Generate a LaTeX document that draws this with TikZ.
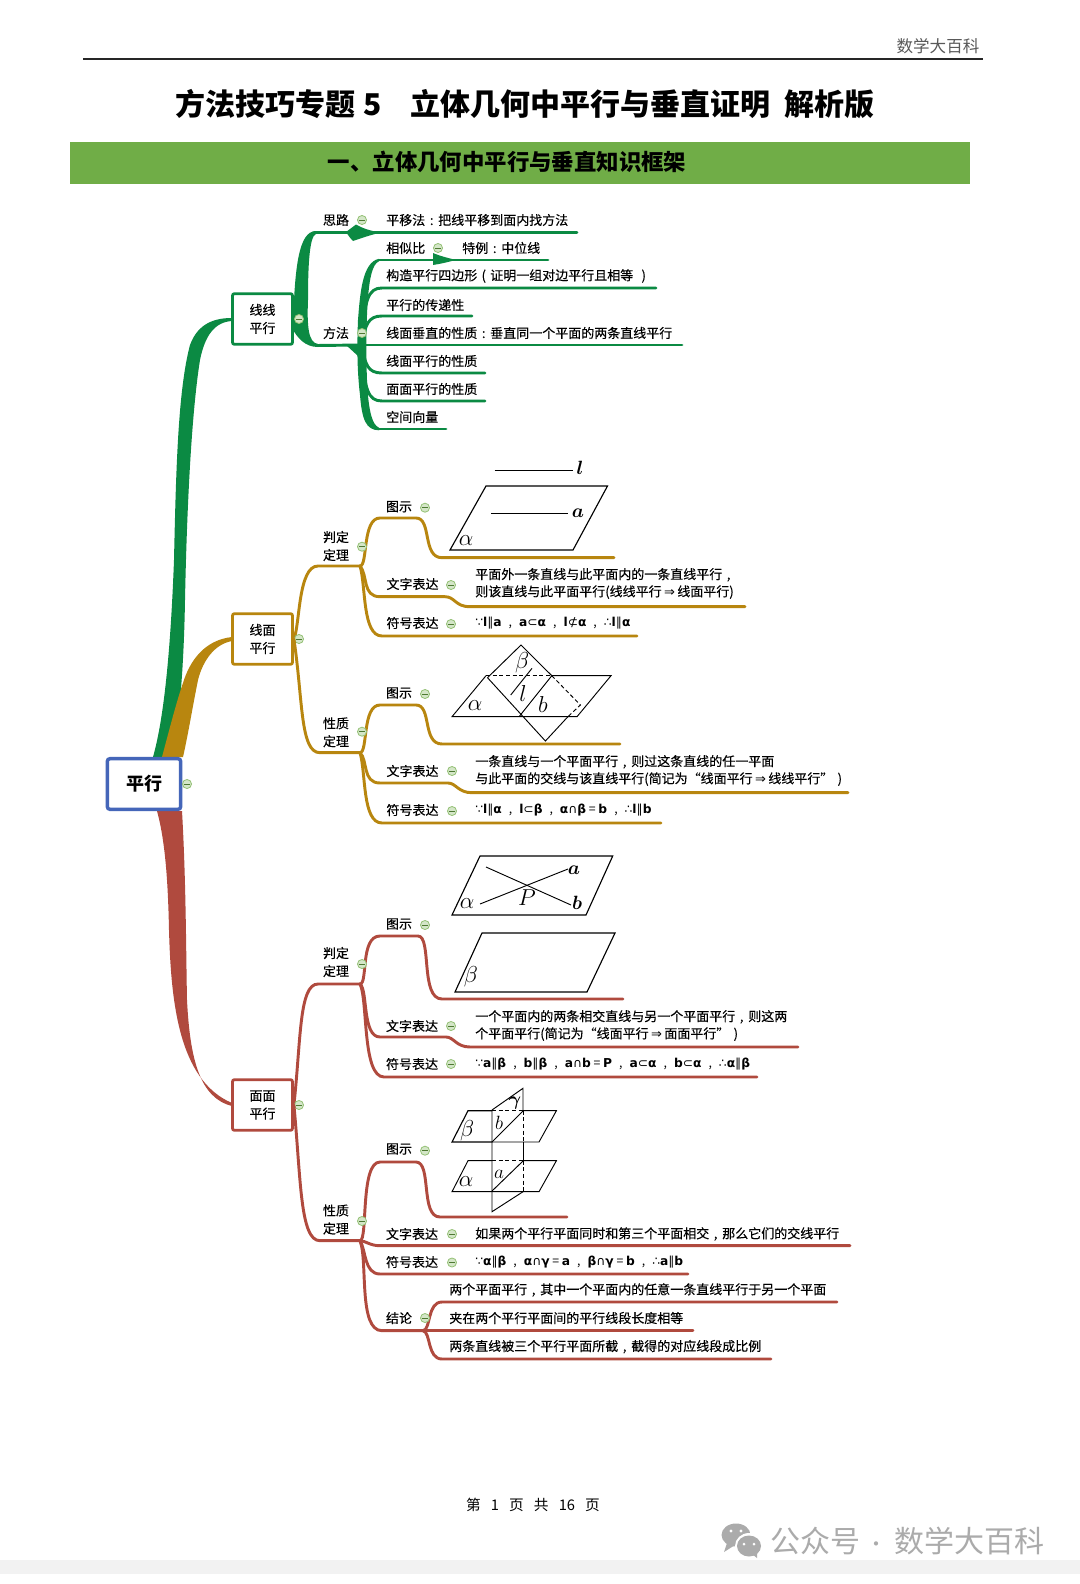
\documentclass[tikz,border=0pt]{standalone}
\usepackage{amsmath}
\usepackage{fontspec}
\setmainfont{Noto Sans CJK SC}
\newfontfamily\labf[FakeBold=0.25]{Noto Sans CJK SC}
\newfontfamily\symf{DejaVu Sans}
\definecolor{cgreen}{HTML}{0B8A43}
\definecolor{cgold}{HTML}{B8860F}
\definecolor{cred}{HTML}{B04A3E}
\definecolor{cblue}{HTML}{4566B9}
\definecolor{cband}{HTML}{70AD47}
\definecolor{cwm}{HTML}{ABABAB}
\newcommand{\sy}[1]{{\symf #1}}
\newcommand{\sbd}[1]{{\symf\bfseries #1}}
\newcommand{\cma}{\hspace{3.2pt} , \hspace{3.2pt}}
\newcommand{\fw}[1]{\makebox[1em][c]{#1}}
\newcommand{\arrw}{\hspace{1.8pt}\sy{⇒}\hspace{1.8pt}}
\tikzset{
  lab/.style={inner sep=0pt,anchor=center,align=center,font=\labf\fontsize{9.75}{13.5}\selectfont},
  leaf/.style={inner sep=0pt,anchor=west,align=left,font=\labf\fontsize{9.75}{12.9}\selectfont},
  symb/.style={inner sep=0pt,anchor=west,font=\fontsize{9.2}{11}\selectfont},
  tog/.style={circle,inner sep=0pt,minimum size=6.8pt,draw=cband!75,line width=0.6pt,fill=cband!30,
    path picture={\draw[cband!70!black,line width=0.6pt] ([xshift=1pt]path picture bounding box.west) -- ([xshift=-1pt]path picture bounding box.east);}},
  gbox/.style={draw=cgreen,line width=2.1pt,fill=white,rounded corners=1.5pt,minimum width=45pt,minimum height=38pt,inner sep=0pt,align=center,font=\labf\fontsize{9.75}{13.5}\selectfont},
  ybox/.style={gbox,draw=cgold},
  rbox/.style={gbox,draw=cred},
  gl/.style={draw=cgreen,line width=2.2pt,line cap=round},
  yl/.style={draw=cgold,line width=2.2pt,line cap=round},
  rl/.style={draw=cred,line width=2.2pt,line cap=round},
  fig/.style={draw=black,line width=0.7pt},
  dsh/.style={draw=black,line width=0.7pt,dash pattern=on 3pt off 2pt},
  mth/.style={inner sep=0pt,anchor=center,text=black}
}
\begin{document}
\begin{tikzpicture}[x=0.75pt,y=-0.75pt]
\useasboundingbox (0,0) rectangle (1080,1584);
\fill[white] (0,0) rectangle (1080,1584);
\fill[black!5] (0,1560) rectangle (1080,1574);
% header
\node[inner sep=0pt,text=black!65,font=\fontsize{12.4}{14}\selectfont] (hdr) at (938,46.5) {数学大百科};
\coordinate (hl) at (83,59); \coordinate (hr) at (983,59);
\draw[black!85,line width=0.9pt] (hl) -- (hr);
\node[inner sep=0pt,anchor=west,font=\bfseries\fontsize{22.5}{26}\selectfont] (title) at (175,104)
  {方法技巧专题\hspace{6pt}5\hspace{22pt}立体几何中平行与垂直证明\hspace{10.5pt}解析版};
\fill[cband] (70,142.3) rectangle (969.5,184.3);
\node[inner sep=0pt,font=\bfseries\fontsize{16.8}{20}\selectfont] (band) at (507,162) {一、立体几何中平行与垂直知识框架};

% ---- nodes
\node[gbox] (bxG) at (262.5,319) {线线\\平行};
\node[ybox] (bxY) at (262.5,639) {线面\\平行};
\node[rbox] (bxR) at (262.5,1105) {面面\\平行};

% main trunks
\fill[cgreen] (153,757) .. controls (165,715) and (171,640) .. (174,560) .. controls (176,470) and (178,390) .. (190,345) .. controls (198,323) and (215,318) .. (232,318) -- (232,321) .. controls (215,322) and (205,335) .. (200,360) .. controls (192,410) and (187,500) .. (185,600) .. controls (184,660) and (180,720) .. (172,757) -- cycle;
\fill[cgold] (162,757) .. controls (170,727) and (177,700) .. (183,683) .. controls (190,660) and (205,640) .. (232,637) -- (232,641) .. controls (215,644) and (203,660) .. (198,680) .. controls (192,710) and (188,735) .. (183,757) -- cycle;
\fill[cred] (157,811) .. controls (165,840) and (168,880) .. (169,930) .. controls (171,1000) and (178,1080) .. (232,1103) -- (232,1106) .. controls (200,1098) and (190,1060) .. (187,1000) .. controls (186,950) and (186,880) .. (182,811) -- cycle;

% ---- green branch
\fill[cgreen] (293,322) .. controls (295,270) and (298,231) .. (316,231) -- (316,234) .. controls (309,236) and (308,270) .. (308,300) .. controls (307,325) and (308,343) .. (318,344) -- (318,347) .. controls (305,347) and (298,338) .. (293,330) -- cycle;
\coordinate (gA) at (314,232.5); \coordinate (gAe) at (577,232.5);
\draw[gl] (gA) -- (gAe);
\fill[cgreen] (346,232) -- (356,224.5) .. controls (362,228) and (370,231) .. (381,232.5) .. controls (370,235) and (362,238) .. (353,241) .. controls (350,238) and (348,235) .. (346,232) -- cycle;
\coordinate (gJ) at (362,345);
\coordinate (gB) at (316,345.5);
\draw[gl] (gB) -- (gJ);
\fill[cgreen] (346,345) -- (358,356) -- (366,345) -- cycle;
\coordinate (g1) at (548,260); \coordinate (g2) at (656,288); \coordinate (g3) at (472,316);
\coordinate (g4) at (682,345); \coordinate (g5) at (485,373); \coordinate (g6) at (485,401); \coordinate (g7) at (446,429);
\fill[cgreen] (379,258.8) .. controls (362,262) and (360,295) .. (358,320) .. controls (357,345) and (357,370) .. (360,395) .. controls (362,420) and (366,430) .. (379,430.3) -- (379,427.7) .. controls (372,425) and (369,410) .. (367.5,390) .. controls (366,365) and (366,330) .. (367.5,305) .. controls (369,280) and (372,264) .. (379,261.3) -- cycle;
\draw[gl] (379,260) -- (g1);
\draw[gl] (gJ) .. controls (364,300) and (368,288) .. (382,288) -- (g2);
\draw[gl] (gJ) .. controls (365,325) and (368,316) .. (382,316) -- (g3);
\draw[gl] (gJ) -- (g4);
\draw[gl] (gJ) .. controls (365,365) and (368,373) .. (382,373) -- (g5);
\draw[gl] (gJ) .. controls (364,390) and (368,401) .. (382,401) -- (g6);
\draw[gl] (379,429) -- (g7);
\fill[cgreen] (433,253) .. controls (440,256) and (448,258) .. (456,260) .. controls (448,262) and (440,264) .. (433,265) -- cycle;

\node[lab] (nSilu) at (336,220) {思路};
\node[lab] (nFa) at (336,333) {方法};
\node[leaf] (t1) at (386,220) {平移法\fw{:}把线平移到面内找方法};
\node[leaf] (t2) at (386,248) {相似比};
\node[leaf] (t2b) at (462,248) {特例\fw{:}中位线};
\node[leaf] (t3) at (386,276) {构造平行四边形\fw{(}证明一组对边平行且相等\hspace{3pt}\fw{)}};
\node[leaf] (t4) at (386,305) {平行的传递性};
\node[leaf] (t5) at (386,333) {线面垂直的性质\fw{:}垂直同一个平面的两条直线平行};
\node[leaf] (t6) at (386,361) {线面平行的性质};
\node[leaf] (t7) at (386,389) {面面平行的性质};
\node[leaf] (t8) at (386,417) {空间向量};
\node[tog] (k1) at (299,319) {};
\node[tog] (k2) at (362,220) {};
\node[tog] (k3) at (362,333) {};
\node[tog] (k4) at (438,248) {};

% ---- gold branch, first theorem
\coordinate (yJ1) at (360,566);
\coordinate (y1a) at (614,557.7); \coordinate (y1b) at (745,606.7); \coordinate (y1c) at (637,636);
\draw[yl] (bxY.east) .. controls (300,625) and (298,566) .. (318,566) -- (yJ1);
\draw[yl] (yJ1) .. controls (368,566) and (362,518) .. (380,518) -- (416,518) .. controls (432,518) and (422,557.7) .. (442,557.7) -- (y1a);
\draw[yl] (yJ1) .. controls (368,575) and (362,596.7) .. (380,596.7) -- (445,596.7) .. controls (455,596.7) and (455,606.7) .. (470,606.7) -- (y1b);
\draw[yl] (yJ1) .. controls (366,585) and (362,636) .. (382,636) -- (y1c);
\node[lab] (y1t) at (336,546) {判定\\定理};
\node[lab] (y1i) at (399,506.7) {图示};
\node[lab] (y1w) at (412.5,584) {文字表达};
\node[lab] (y1s) at (412.5,623) {符号表达};
\node[leaf] (y1wt) at (475,583.5) {平面外一条直线与此平面内的一条直线平行\fw{,}\\则该直线与此平面平行(线线平行\arrw 线面平行)};
\node[symb] (y1st) at (475,623) {\sy{∵}\sbd{l}\sy{∥}\sbd{a}\cma\sbd{a}\sy{⊂}\sbd{α}\cma\sbd{l}\sy{⊄}\sbd{α}\cma\sy{∴}\sbd{l}\sy{∥}\sbd{α}};
\node[tog] (yk1) at (299,639) {};
\node[tog] (yk2) at (362,546.7) {};
\node[tog] (yk3) at (425,507.7) {};
\node[tog] (yk4) at (451,585) {};
\node[tog] (yk5) at (451,624) {};
% figure 1
\coordinate (f1a) at (494.5,470); \coordinate (f1b) at (573,470);
\draw[fig] (f1a) -- (f1b);
\node[mth] (f1l) at (580,468) {\Large$\boldsymbol{l}$};
\draw[fig,line width=0.85pt] (486,486) -- (607.5,486) -- (573,550) -- (450,550) -- cycle;
\coordinate (f1c) at (491,513); \coordinate (f1d) at (568,513);
\draw[fig] (f1c) -- (f1d);
\node[mth] (f1m) at (578,513) {\Large$\boldsymbol{a}$};
\node[mth] (f1p) at (466,541) {\LARGE$\alpha$};

% ---- gold branch, second theorem
\coordinate (yJ2) at (360,752.7);
\coordinate (y2a) at (620,744); \coordinate (y2b) at (848,792.7); \coordinate (y2c) at (661,823);
\draw[yl] (bxY.east) .. controls (303,700) and (300,752.7) .. (320,752.7) -- (yJ2);
\draw[yl] (yJ2) .. controls (368,752.7) and (362,705) .. (380,705) -- (416,705) .. controls (432,705) and (422,744) .. (442,744) -- (y2a);
\draw[yl] (yJ2) .. controls (368,760) and (362,783) .. (380,783) -- (448,783) .. controls (456,783) and (458,792.7) .. (472,792.7) -- (y2b);
\draw[yl] (yJ2) .. controls (366,772) and (362,823) .. (382,823) -- (y2c);
\node[lab] (y2t) at (336,732.3) {性质\\定理};
\node[lab] (y2i) at (399,693) {图示};
\node[lab] (y2w) at (412.5,771) {文字表达};
\node[lab] (y2s) at (412.5,810) {符号表达};
\node[leaf] (y2wt) at (475,770.5) {一条直线与一个平面平行\fw{,}则过这条直线的任一平面\\与此平面的交线与该直线平行(简记为“线面平行\arrw 线线平行”\fw{)}};
\node[symb] (y2st) at (475,810) {\sy{∵}\sbd{l}\sy{∥}\sbd{α}\cma\sbd{l}\sy{⊂}\sbd{β}\cma\sbd{α}\sy{∩}\sbd{β} = \sbd{b}\cma\sy{∴}\sbd{l}\sy{∥}\sbd{b}};
\node[tog] (yk6) at (362,731.7) {};
\node[tog] (yk7) at (425,694) {};
\node[tog] (yk8) at (452,771) {};
\node[tog] (yk9) at (452,811) {};
% figure 2
\draw[fig] (551.8,675.7) -- (611,675.7) -- (577,716.7) -- (452,716.7) -- (486,675.7);
\draw[dsh] (486,675.7) -- (551.8,675.7);
\draw[fig] (487.5,677.7) -- (521,645) -- (551.8,675.7) -- (519.6,716);
\draw[fig] (487.5,677.7) -- (545.4,741) -- (567.9,716.7);
\draw[dsh] (551.8,675.7) -- (580.4,705) -- (567.9,716.7);
\coordinate (f2a) at (532,668.3); \coordinate (f2b) at (510.7,695);
\draw[fig] (f2a) -- (f2b);
\node[mth] (f2be) at (522,663) {\LARGE$\beta$};
\node[mth] (f2l) at (523,693) {\LARGE$l$};
\node[mth] (f2c) at (543,704) {\LARGE$b$};
\node[mth] (f2p) at (475,706) {\LARGE$\alpha$};

% ---- red branch, first theorem
\coordinate (rJ1) at (360,984);
\coordinate (r1a) at (623,999); \coordinate (r1b) at (798,1047); \coordinate (r1c) at (757,1077);
\draw[rl] (bxR.east) .. controls (301,1040) and (299,984) .. (318,984) -- (rJ1);
\draw[rl] (rJ1) .. controls (368,984) and (360,936) .. (380,936) -- (418,936) .. controls (432,936) and (420,999) .. (442,999) -- (r1a);
\draw[rl] (rJ1) .. controls (368,990) and (362,1037) .. (380,1037) -- (446,1037) .. controls (454,1037) and (456,1047) .. (470,1047) -- (r1b);
\draw[rl] (rJ1) .. controls (368,1000) and (362,1077) .. (384,1077) -- (r1c);
\node[lab] (r1t) at (336,962) {判定\\定理};
\node[lab] (r1i) at (399,924) {图示};
\node[lab] (r1w) at (412,1026) {文字表达};
\node[lab] (r1s) at (412,1064) {符号表达};
\node[leaf] (r1wt) at (475,1025.5) {一个平面内的两条相交直线与另一个平面平行\fw{,}则这两\\个平面平行(简记为“线面平行\arrw 面面平行”\fw{)}};
\node[symb] (r1st) at (475,1064) {\sy{∵}\sbd{a}\sy{∥}\sbd{β}\cma\sbd{b}\sy{∥}\sbd{β}\cma\sbd{a}\sy{∩}\sbd{b} = \sbd{P}\cma\sbd{a}\sy{⊂}\sbd{α}\cma\sbd{b}\sy{⊂}\sbd{α}\cma\sy{∴}\sbd{α}\sy{∥}\sbd{β}};
\node[tog] (rk1) at (299,1105) {};
\node[tog] (rk2) at (362,964) {};
\node[tog] (rk3) at (425,925) {};
\node[tog] (rk4) at (451,1026) {};
\node[tog] (rk5) at (451,1064) {};
% figure 3
\draw[fig,line width=0.85pt] (480,856) -- (612.7,856) -- (586,915) -- (452,915) -- cycle;
\coordinate (f3a) at (480,904); \coordinate (f3b) at (568,869);
\coordinate (f3c) at (486,867); \coordinate (f3d) at (571,905);
\draw[fig] (f3a) -- (f3b);
\draw[fig] (f3c) -- (f3d);
\node[mth] (f3m) at (574,870) {\Large$\boldsymbol{a}$};
\node[mth] (f3n) at (577,903) {\Large$\boldsymbol{b}$};
\node[mth] (f3P) at (527,898) {\LARGE$P$};
\node[mth] (f3x) at (467,904) {\LARGE$\alpha$};
\draw[fig,line width=0.85pt] (482,933) -- (615,933) -- (587,992) -- (455,992) -- cycle;
\node[mth] (f3y) at (471,977) {\LARGE$\beta$};

% ---- red branch, second theorem
\coordinate (rJ2) at (360,1240.7);
\coordinate (r2a) at (567,1217); \coordinate (r2b) at (850,1245.7); \coordinate (r2c) at (688,1274);
\coordinate (r2d) at (423,1330.7); \coordinate (r2e) at (837,1302); \coordinate (r2f) at (693,1330.7); \coordinate (r2g) at (771,1359);
\draw[rl] (bxR.east) .. controls (301,1180) and (300,1240.7) .. (320,1240.7) -- (rJ2);
\draw[rl] (rJ2) .. controls (368,1240.7) and (360,1162) .. (380,1162) -- (416,1162) .. controls (432,1162) and (420,1217) .. (440,1217) -- (r2a);
\draw[rl] (rJ2) .. controls (366,1241) and (370,1245.7) .. (380,1245.7) -- (r2b);
\draw[rl] (rJ2) .. controls (366,1250) and (364,1274) .. (380,1274) -- (r2c);
\draw[rl] (rJ2) .. controls (368,1260) and (358,1330.7) .. (382,1330.7) -- (r2d);
\draw[rl] (r2d) .. controls (431,1330) and (427,1302) .. (442,1302) -- (r2e);
\draw[rl] (r2d) -- (r2f);
\draw[rl] (r2d) .. controls (431,1332) and (427,1359) .. (442,1359) -- (r2g);
\node[lab] (r2t) at (336,1219.5) {性质\\定理};
\node[lab] (r2i) at (399,1149) {图示};
\node[lab] (r2w) at (412,1234) {文字表达};
\node[lab] (r2s) at (412,1262) {符号表达};
\node[lab] (r2k) at (399,1318) {结论};
\node[leaf] (r2wt) at (475,1234) {如果两个平行平面同时和第三个平面相交\fw{,}那么它们的交线平行};
\node[symb] (r2st) at (475,1262) {\sy{∵}\sbd{α}\sy{∥}\sbd{β}\cma\sbd{α}\sy{∩}\sbd{γ} = \sbd{a}\cma\sbd{β}\sy{∩}\sbd{γ} = \sbd{b}\cma\sy{∴}\sbd{a}\sy{∥}\sbd{b}};
\node[leaf] (r2x) at (449,1290) {两个平面平行\fw{,}其中一个平面内的任意一条直线平行于另一个平面};
\node[leaf] (r2y) at (449,1318) {夹在两个平行平面间的平行线段长度相等};
\node[leaf] (r2z) at (449,1346.7) {两条直线被三个平行平面所截\fw{,}截得的对应线段成比例};
\node[tog] (rk6) at (362,1221) {};
\node[tog] (rk7) at (425,1150.7) {};
\node[tog] (rk8) at (452,1234) {};
\node[tog] (rk9) at (452,1262.5) {};
\node[tog] (rk10) at (425,1318) {};
% figure 4
\draw[fig,line width=0.85pt] (492,1142) -- (452,1142) -- (468,1110.7) -- (492,1110.7);
\draw[dsh] (492,1110.7) -- (523,1110.7);
\draw[fig] (523,1110.7) -- (556.4,1110.7) -- (539,1142) -- (492,1142);
\draw[fig] (492,1191.7) -- (452,1191.7) -- (468,1160.7) -- (492,1160.7);
\draw[dsh] (492,1160.7) -- (523,1160.7);
\draw[fig] (523,1160.7) -- (556.4,1160.7) -- (539,1191.7) -- (492,1191.7);
\draw[fig] (492,1110) -- (523,1088.3) -- (523,1110.7);
\draw[dsh] (523,1110.7) -- (523,1142);
\draw[fig] (523,1142) -- (523,1160.7);
\draw[dsh] (523,1160.7) -- (523,1191.7);
\draw[fig] (492,1110) -- (492,1211.7) -- (523,1191.7);
\draw[fig] (492,1142) -- (523,1111);
\draw[fig] (492,1191) -- (523,1161);
\node[mth] (f4b) at (467,1131) {\LARGE$\beta$};
\node[mth] (f4m) at (499,1123) {\Large$b$};
\node[mth] (f4g) at (515,1103) {\Large$\boldsymbol{\gamma}$};
\node[mth] (f4x) at (466,1182) {\LARGE$\alpha$};
\node[mth] (f4n) at (499,1174) {\Large$a$};

% central
\node[draw=cblue,line width=2.6pt,fill=white,rounded corners=2pt,minimum width=55pt,minimum height=38pt,inner sep=0pt,font=\bfseries\fontsize{13.5}{16}\selectfont] (root) at (144,784) {平行};
\node[tog] (rootk) at (187,784) {};

% footer
\node[inner sep=0pt,font=\fontsize{11}{13}\selectfont] (foot) at (533,1505) {第\hspace{7.6pt}1\hspace{7.6pt}页\hspace{7.6pt}共\hspace{7.6pt}16\hspace{7.6pt}页};
% watermark
\fill[cwm] (736,1535) ellipse [x radius=14.5,y radius=11.5];
\fill[cwm] (727,1543) -- (724,1552) -- (735,1545) -- cycle;
\fill[white] (749,1546) ellipse [x radius=14,y radius=13];
\fill[cwm] (749,1546) ellipse [x radius=12,y radius=10.5];
\fill[cwm] (752,1554) -- (757,1558) -- (757,1551) -- cycle;
\fill[white] (731,1531) circle (1.7); \fill[white] (741,1531) circle (1.7);
\fill[white] (744,1544) circle (1.5); \fill[white] (754,1544) circle (1.5);
\node[inner sep=0pt,anchor=west,text=cwm,font=\fontsize{22.5}{26}\selectfont] (wm1) at (770,1541) {公众号};
\node[inner sep=0pt,text=cwm,font=\fontsize{15}{18}\selectfont] (wmd) at (876,1547) {·};
\node[inner sep=0pt,anchor=west,text=cwm,font=\fontsize{22.5}{26}\selectfont] (wm2) at (894,1541) {数学大百科};
\end{tikzpicture}
\end{document}
